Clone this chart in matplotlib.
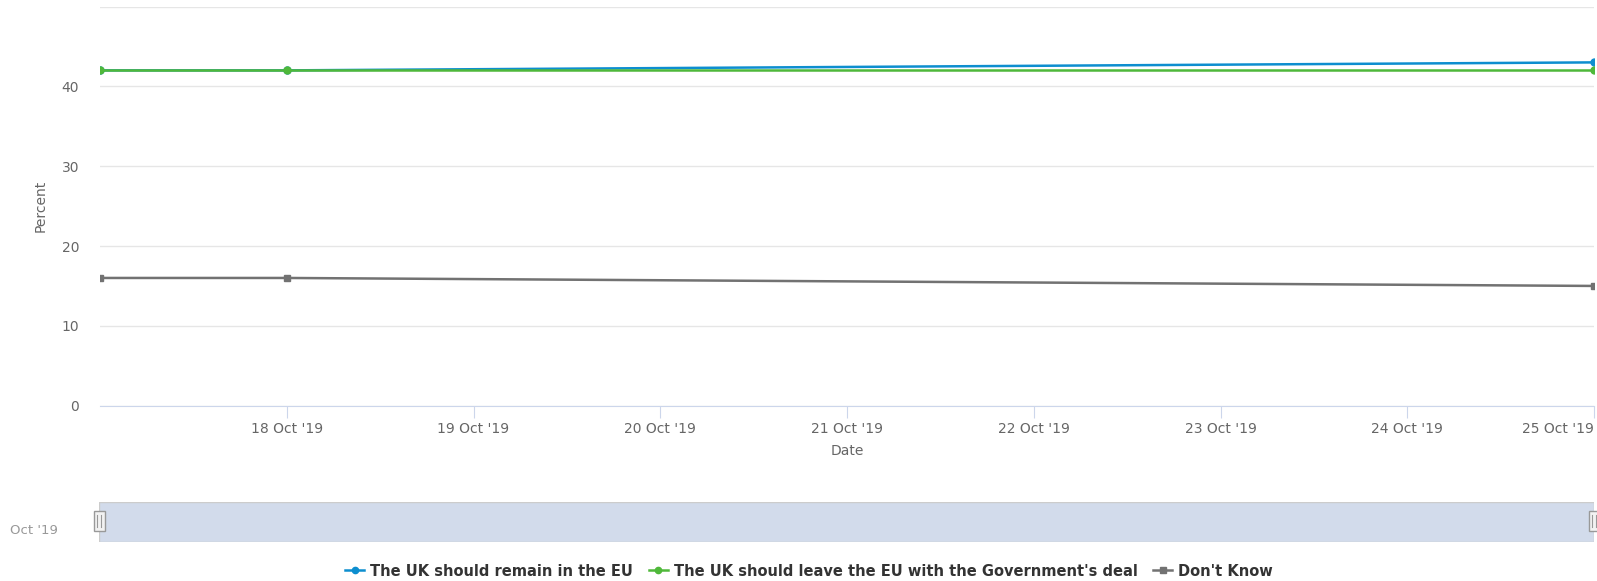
import matplotlib
matplotlib.use("Agg")
import matplotlib.pyplot as plt
import matplotlib.dates as mdates
from matplotlib.patches import Rectangle
from datetime import datetime

# data
dates = [datetime(2019, 10, 17), datetime(2019, 10, 18), datetime(2019, 10, 25)]
remain = [42, 42, 43]
leave_deal = [42, 42, 42]
dont_know = [16, 16, 15]
series_names = ["The UK should remain in the EU",
                "The UK should leave the EU with the Government's deal",
                "Don't Know"]
y_ticks = [0, 10, 20, 30, 40, 50]
y_labels = ["0", "10", "20", "30", "40", ""]
x_ticks = [datetime(2019, 10, d) for d in range(18, 26)]

plt.rcParams['font.family'] = ['DejaVu Sans']

W, H = 1597, 581
fig = plt.figure(figsize=(W / 100, H / 100), dpi=100)

ax = fig.add_axes([100 / W, 1 - 405.7 / H, (1594 - 100) / W, (405.7 - 6.5) / H])
ax.plot(dates, remain, color="#0d8ecf", lw=1.8, marker="o", ms=5, label=series_names[0], zorder=3)
ax.plot(dates, leave_deal, color="#4fb83a", lw=1.8, marker="o", ms=5, label=series_names[1], zorder=4)
ax.plot(dates, dont_know, color="#727272", lw=1.8, marker="s", ms=5, label=series_names[2], zorder=3)

ax.set_xlim(datetime(2019, 10, 17), datetime(2019, 10, 25))
ax.set_ylim(0, 50)
ax.set_yticks(y_ticks)
ax.set_yticklabels(y_labels)
ax.set_xticks(x_ticks)
ax.xaxis.set_major_formatter(mdates.DateFormatter("%-d %b '%y"))
ax.grid(axis="y", color="#e6e6e6", lw=1)
ax.set_axisbelow(True)
for s in ["top", "right", "left"]:
    ax.spines[s].set_visible(False)
ax.spines["bottom"].set_color("#ccd6eb")
ax.tick_params(axis="y", length=0, pad=15, labelsize=10, labelcolor="#666666")
ax.tick_params(axis="x", length=8.5, color="#ccd6eb", pad=3, labelsize=10, labelcolor="#666666")
for lab in ax.get_xticklabels():
    lab.set_ha("center")
ax.get_xticklabels()[-1].set_ha("right")
ax.set_xlabel("Date", color="#666666", fontsize=10, labelpad=6)
ax.set_ylabel("Percent", color="#666666", fontsize=10, labelpad=10)

# navigator strip
nav = fig.add_axes([99 / W, 1 - 541.7 / H, (1594 - 99) / W, 40 / H])
nav.set_xlim(0, 1)
nav.set_ylim(0, 1)
nav.axis("off")
nav.add_patch(Rectangle((0, 0), 1, 1, facecolor="#d2dbeb", edgecolor="#cccccc", lw=1))
for hx in [0, 1]:
    hw = 11 / (1594 - 99)
    nav.add_patch(Rectangle((hx - hw / 2, 0.26), hw, 0.5, facecolor="#f2f2f2",
                            edgecolor="#999999", lw=1, clip_on=False, zorder=5))
    for dx in [-0.0012, 0.0012]:
        nav.plot([hx + dx, hx + dx], [0.36, 0.66], color="#999999", lw=0.8,
                 clip_on=False, zorder=6)
fig.text(10 / W, 1 - 530 / H, "Oct '19", color="#999999", fontsize=9.5, va="center", ha="left")

leg = fig.legend(loc="center", bbox_to_anchor=(809 / W, 1 - 571 / H), ncol=3, frameon=False,
                 handlelength=1.3, handletextpad=0.4, columnspacing=1.1, markerscale=0.9,
                 prop={"weight": "bold", "size": 10.5})
for t in leg.get_texts():
    t.set_color("#333333")

fig.savefig("out.png", dpi=100)
